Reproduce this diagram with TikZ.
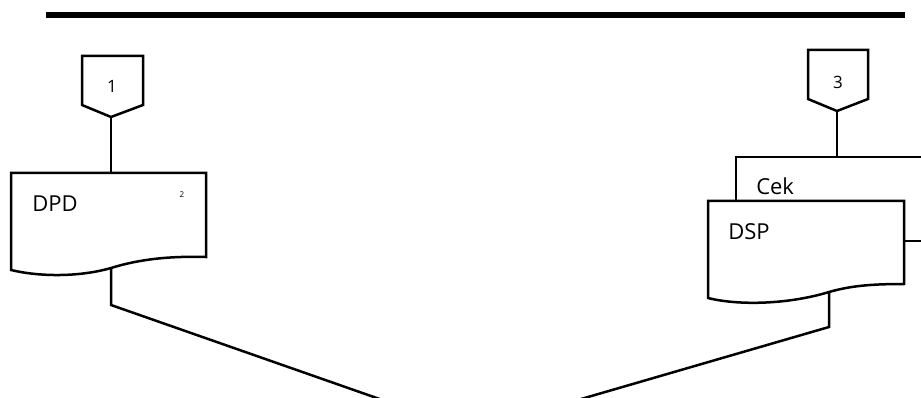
\documentclass[tikz,border=0pt]{standalone}
\usepackage{fontspec}
\setmainfont{Open Sans}
\begin{document}
\begin{tikzpicture}[x=1pt,y=-1pt, line width=2.5pt, line join=miter,
  lbl/.style={inner sep=0pt, font=\fontsize{22}{24}\selectfont},
  numlbl/.style={inner sep=0pt, font=\fontsize{17}{18}\selectfont},
  tiny/.style={inner sep=0pt, font=\fontsize{8}{9}\selectfont},
  link/.style={line width=2.5pt}]
\useasboundingbox (0,0) rectangle (921,398);
\clip (0,0) rectangle (921,398);
% top bar
\draw[line width=6pt] (46,15) -- (905,15);
% off-page connector 1
\draw (82,56) -- (143,56) -- (143,105) -- (111,117) -- (82,105) -- cycle;
\node[numlbl] (n1) at (112,86) {1};
\coordinate (t1) at (111,117);
% document DPD
\draw (11,270) -- (11,173) -- (206,173) -- (206,257)
  .. controls (170,256) and (140,259) .. (111,268)
  .. controls (80,277) and (40,277) .. cycle;
\node[lbl, anchor=west] (dpd) at (31,204) {DPD};
\node[tiny] (n2) at (182,195) {2};
\coordinate (dpdtop) at (111,173);
\coordinate (dpdbot) at (111,268);
\draw[link] (t1) -- (dpdtop);
% off-page connector 3
\draw (808,50) -- (868,50) -- (868,99) -- (837,111) -- (808,99) -- cycle;
\node[numlbl] (n3) at (838,82) {3};
\coordinate (t3) at (837,111);
% Cek box
\coordinate (cektop) at (837,157);
\draw (736,201) -- (736,157) -- (930,157);
\node[lbl, anchor=west] (cek) at (755,186) {Cek};
\draw[link] (t3) -- (cektop);
% document DSP
\draw (708,298) -- (708,201) -- (904,201) -- (904,284)
  .. controls (870,284) and (850,286) .. (829,292)
  .. controls (790,304) and (740,306) .. cycle;
\node[lbl, anchor=west] (dsp) at (727,232) {DSP};
\coordinate (dspbot) at (829,292);
\coordinate (dspright) at (904,241);
\coordinate (offright) at (930,241);
\draw[link] (dspright) -- (offright);
% connectors down to merge point
\coordinate (k1) at (111,305);
\coordinate (k2) at (829,327);
\coordinate (merge) at (471,431);
\draw[link] (dpdbot) -- (k1) -- (merge);
\draw[link] (dspbot) -- (k2) -- (merge);
\end{tikzpicture}
\end{document}
